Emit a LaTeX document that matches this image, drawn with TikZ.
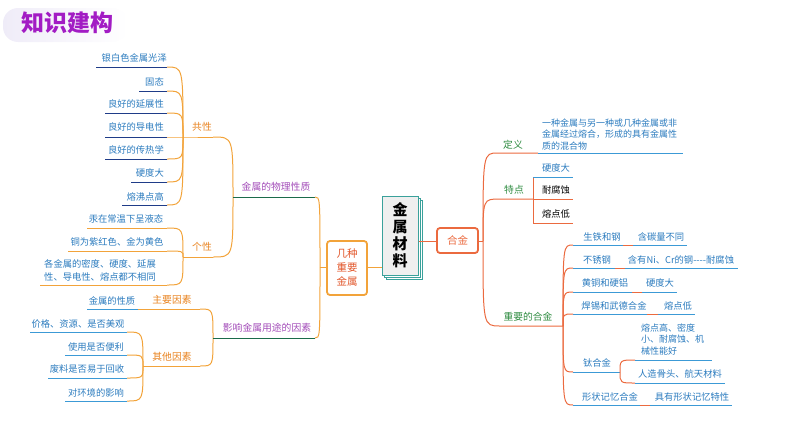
\documentclass[tikz,border=0pt]{standalone}
\usepackage{fontspec}
\setmainfont{Noto Sans CJK SC}
\definecolor{cOr}{HTML}{F2A33A}
\definecolor{cNv}{HTML}{1F3C88}
\definecolor{cBT}{HTML}{2B7BBE}
\definecolor{cBL}{HTML}{3C9AD6}
\definecolor{cPu}{HTML}{A24BB8}
\definecolor{cDG}{HTML}{1B6B4A}
\definecolor{cOT}{HTML}{E8821E}
\definecolor{cRd}{HTML}{EB6A3F}
\definecolor{cGr}{HTML}{2E8B40}
\definecolor{cTl}{HTML}{3AA19B}
\definecolor{cBxT}{HTML}{E2562A}
\definecolor{cTi}{HTML}{A21CC4}
\definecolor{cGy}{HTML}{EFEFEF}
\definecolor{cLav}{HTML}{EFECF8}
\begin{document}
\begin{tikzpicture}[x=1pt,y=-1pt,
  lf/.style={font=\fontsize{9.3}{11.5}\selectfont, inner sep=0pt, text=cBT},
  lab/.style={font=\fontsize{9.8}{12}\selectfont, inner sep=0pt},
  orl/.style={draw=cOr, line width=1pt},
  nvl/.style={draw=cNv, line width=1pt},
  bll/.style={draw=cBL, line width=1pt},
  dgl/.style={draw=cDG, line width=1pt},
  rdl/.style={draw=cRd, line width=1pt}]
\useasboundingbox (0,0) rectangle (794,447);
% title
\shade[left color=cLav, right color=white, rounded corners=15pt] (3,8) rectangle (128,42);
\node[font=\fontsize{23}{25}\selectfont\bfseries, text=cTi, anchor=west, inner sep=0pt] (title) at (21,23) {知识建构};

% hubs
\coordinate (hubCom) at (183,137);
\coordinate (hubInd) at (183,257);
\coordinate (hubPhy) at (233,197);
\coordinate (phyEnd) at (315,197);
\coordinate (hubUse) at (213,338);
\coordinate (useEnd) at (315,338);
\coordinate (hubMain) at (320,267);
\coordinate (hubOther) at (143,366);
\coordinate (hubAlloy) at (483,241);
\coordinate (hubImp) at (563,326);
\coordinate (hubTi) at (620,372);

% ---------- common properties
\node[lf,anchor=east] (c1) at (167,58) {银白色金属光泽};
\node[lf,anchor=east] (c2) at (164,82) {固态};
\node[lf,anchor=east] (c3) at (164,104) {良好的延展性};
\node[lf,anchor=east] (c4) at (164,127) {良好的导电性};
\node[lf,anchor=east] (c5) at (164,150) {良好的传热学};
\node[lf,anchor=east] (c6) at (164,173) {硬度大};
\node[lf,anchor=east] (c7) at (164,197) {熔沸点高};
\draw[nvl] (96,67) -- (167,67) coordinate (ce1);
\draw[nvl] (139,91) -- (167,91) coordinate (ce2);
\draw[nvl] (105,113) -- (167,113) coordinate (ce3);
\draw[nvl] (105,137) -- (167,137) coordinate (ce4);
\draw[nvl] (105,159) -- (167,159) coordinate (ce5);
\draw[nvl] (131,182) -- (167,182) coordinate (ce6);
\draw[nvl] (122,205) -- (167,205) coordinate (ce7);
\foreach \k in {1,2,3,5,6,7} \draw[orl] (hubCom) .. controls (hubCom |- ce\k) .. (ce\k);
\draw[orl] (ce4) -- (hubCom) -- (213,137) coordinate (comEnd);
\node[lab, text=cOT] (com) at (202,127) {共性};

% ---------- individual properties
\node[lf] (p1) at (126,219) {汞在常温下呈液态};
\node[lf] (p2) at (117,242) {铜为紫红色、金为黄色};
\node[lf, anchor=west, align=left, font=\fontsize{9.3}{13}\selectfont] (p3) at (44,270.5) {各金属的密度、硬度、延展\\性、导电性、熔点都不相同};
\draw[orl] (87,228) -- (167,228) coordinate (pe1);
\draw[orl] (68,251) -- (167,251) coordinate (pe2);
\draw[orl] (40,285) -- (167,285) coordinate (pe3);
\foreach \k in {1,2,3} \draw[orl] (hubInd) .. controls (hubInd |- pe\k) .. (pe\k);
\draw[orl] (hubInd) -- (213,257) coordinate (indEnd);
\node[lab, text=cOT] (ind) at (202,247) {个性};

% ---------- physical properties
\draw[orl] (hubPhy) .. controls (hubPhy |- comEnd) .. (comEnd);
\draw[orl] (hubPhy) .. controls (hubPhy |- indEnd) .. (indEnd);
\draw[dgl] (hubPhy) -- (phyEnd);
\node[lab, text=cPu] (phy) at (276,187) {金属的物理性质};

% ---------- factors
\node[lf] (m1) at (112,301) {金属的性质};
\draw[bll] (87,309) -- (138,309) coordinate (me1);
\draw[orl] (me1) -- (200,309) coordinate (mainEnd);
\node[lab, text=cOT] (mainf) at (172,300) {主要因素};

\node[lf] (f1) at (78,324) {价格、资源、是否美观};
\node[lf] (f2) at (96,347) {使用是否便利};
\node[lf] (f3) at (87,369) {废料是否易于回收};
\node[lf] (f4) at (96,393) {对环境的影响};
\draw[bll] (30,332) -- (127,332) coordinate (fe1);
\draw[bll] (65,355) -- (127,355) coordinate (fe2);
\draw[bll] (48,378) -- (127,378) coordinate (fe3);
\draw[bll] (65,401) -- (127,401) coordinate (fe4);
\foreach \k in {1,2,3,4} \draw[orl] (hubOther) .. controls (hubOther |- fe\k) .. (fe\k);
\draw[orl] (hubOther) -- (200,366) coordinate (otherEnd);
\node[lab, text=cOT] (other) at (172,357) {其他因素};

\draw[orl] (hubUse) .. controls (hubUse |- mainEnd) .. (mainEnd);
\draw[orl] (hubUse) .. controls (hubUse |- otherEnd) .. (otherEnd);
\draw[dgl] (hubUse) -- (useEnd);
\node[lab, text=cPu] (use) at (267,328) {影响金属用途的因素};

% ---------- main hub and boxes
\draw[orl] (hubMain) .. controls (hubMain |- phyEnd) .. (phyEnd);
\draw[orl] (hubMain) .. controls (hubMain |- useEnd) .. (useEnd);

\node[draw=cOr, line width=1.8pt, rounded corners=3pt, fill=white, minimum width=40pt, minimum height=54pt, inner sep=0pt, align=center, text=cBxT, font=\fontsize{10.5}{14}\selectfont] (box1) at (347,268) {几种\\重要\\金属};
\draw[orl] (hubMain) -- (box1.west |- hubMain);

\draw[draw=cTl, fill=white, line width=0.8pt] (386,200) rectangle (422,279);
\draw[draw=cTl, fill=white, line width=0.8pt] (384,198) rectangle (420,277);
\node[draw=cTl, fill=cGy, line width=1pt, minimum width=36pt, minimum height=79pt, inner sep=0pt, align=center, font=\fontsize{15}{17}\selectfont\bfseries] (jscl) at (400,235.5) {金\\属\\材\\料};
\draw[orl] (box1.east |- hubMain) -- (jscl.west |- hubMain);

\node[draw=cRd, line width=1.8pt, rounded corners=3pt, fill=white, minimum width=41pt, minimum height=25pt, inner sep=0pt, text=cRd, font=\fontsize{10.5}{12}\selectfont] (hj) at (457.5,240.5) {合金};
\draw[rdl] (jscl.east |- hubAlloy) -- (hj.west |- hubAlloy);
\draw[rdl] (hj.east |- hubAlloy) -- (hubAlloy);

% ---------- definition
\draw[rdl] (hubAlloy) .. controls (hubAlloy |- 498,153) .. (498,153) coordinate (defS) -- (538,153) coordinate (defE);
\draw[bll] (defE) -- (683,153);
\node[lab, text=cGr] (def) at (513,145) {定义};
\node[lf, anchor=west, align=left, font=\fontsize{9}{11.4}\selectfont] (deft) at (542,134.4) {一种金属与另一种或几种金属或非\\金属经过熔合，形成的具有金属性\\质的混合物};

% ---------- features
\draw[rdl] (hubAlloy) .. controls (hubAlloy |- 500,199) .. (500,199) -- (533,199) coordinate (feaE);
\node[lab, text=cGr] (fea) at (514,190) {特点};
\draw[rdl] (533,177) -- (533,223);
\draw[bll] (533,177) -- (573,177);
\draw[rdl] (feaE) -- (573,199);
\draw[rdl] (533,223) -- (573,223);
\node[lf] (t1) at (556,168) {硬度大};
\node[lf, text=black] (t2) at (556,190) {耐腐蚀};
\node[lf, text=black] (t3) at (556,214) {熔点低};

% ---------- important alloys
\draw[rdl] (hubAlloy) .. controls (hubAlloy |- 500,326) .. (500,326) -- (hubImp);
\node[lab, text=cGr] (imp) at (528,317) {重要的合金};

\node[lf] (a1) at (602,237) {生铁和钢};
\node[lf] (b1) at (661,237) {含碳量不同};
\draw[bll] (573,245) coordinate (ae1) -- (623,245);
\draw[rdl] (623,245) -- (633,245);
\draw[bll] (633,245) -- (687,245);

\node[lf] (a2) at (597,260) {不锈钢};
\node[lf] (b2) at (681,260) {含有Ni、Cr的钢-{}-{}-{}-耐腐蚀};
\draw[bll] (573,268) coordinate (ae2) -- (615,268);
\draw[rdl] (615,268) -- (625,268);
\draw[bll] (625,268) -- (738,268);

\node[lf] (a3) at (605,283) {黄铜和硬铝};
\node[lf] (b3) at (660,283) {硬度大};
\draw[bll] (573,292) coordinate (ae3) -- (632,292);
\draw[rdl] (632,292) -- (642,292);
\draw[bll] (642,292) -- (677,292);

\node[lf] (a4) at (614,306) {焊锡和武德合金};
\node[lf] (b4) at (678,306) {熔点低};
\draw[bll] (573,314) coordinate (ae4) -- (647,314);
\draw[rdl] (647,314) -- (658,314);
\draw[bll] (658,314) -- (695,314);

\node[lf] (a5) at (597,363) {钛合金};
\draw[bll] (573,372) coordinate (ae5) -- (hubTi);
\node[lf, anchor=west, align=left, font=\fontsize{9}{11.5}\selectfont] (b5) at (641,339.5) {熔点高、密度\\小、耐腐蚀、机\\械性能好};
\node[lf] (b6) at (680,374) {人造骨头、航天材料};
\draw[rdl] (hubTi) .. controls (hubTi |- 635,360) .. (635,360);
\draw[rdl] (hubTi) .. controls (hubTi |- 635,383) .. (635,383);
\draw[bll] (635,360) -- (712,360);
\draw[bll] (635,383) -- (725,383);

\node[lf] (a6) at (610,397) {形状记忆合金};
\node[lf] (b7) at (692,397) {具有形状记忆特性};
\draw[bll] (573,405) coordinate (ae6) -- (640,405);
\draw[rdl] (640,405) -- (650,405);
\draw[bll] (650,405) -- (732,405);

\foreach \k in {1,...,6} \draw[rdl] (hubImp) .. controls (hubImp |- ae\k) .. (ae\k);
\end{tikzpicture}
\end{document}
